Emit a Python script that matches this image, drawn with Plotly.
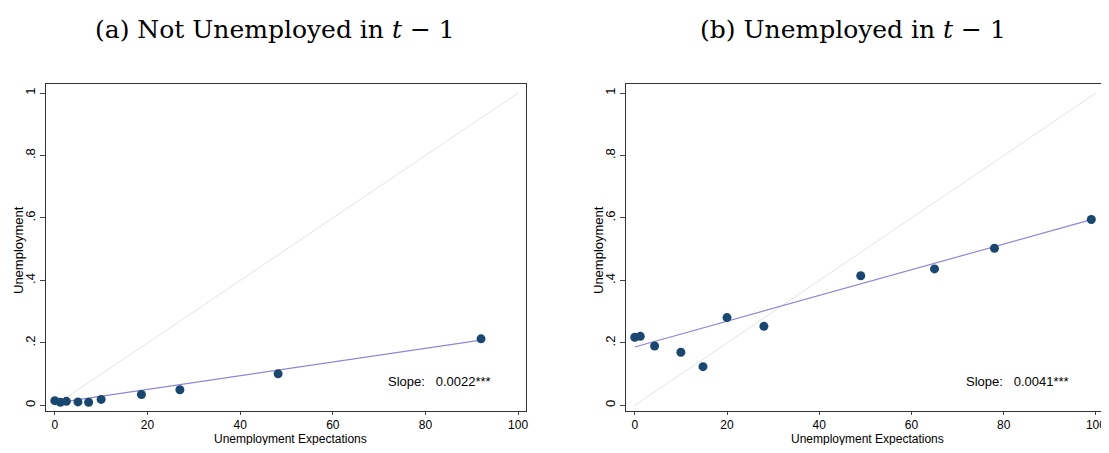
import plotly.graph_objects as go

# panel (a): not unemployed in t-1
xa = [0, 1.2, 2.5, 5, 7.3, 10, 18.7, 27, 48.2, 92]
ya = [0.015, 0.010, 0.013, 0.011, 0.010, 0.019, 0.035, 0.05, 0.101, 0.213]
fit_a_x = [0, 92]
fit_a_y = [0.007, 0.209]

# panel (b): unemployed in t-1
xb = [0, 1.2, 4.3, 10, 14.8, 20, 28, 49, 65, 78, 99]
yb = [0.218, 0.221, 0.19, 0.17, 0.124, 0.281, 0.253, 0.415, 0.437, 0.503, 0.595]
fit_b_x = [0, 99]
fit_b_y = [0.187, 0.595]

# page body has an 8px margin, so the figure is a bit smaller than the window
OFF = 8
W, H = 1109 - 2 * OFF, 453 - 2 * OFF


def xp(p):
    return min(1, (p - OFF) / W)


def yp(p):
    return max(0, 1 - (p - OFF) / H)


navy = '#1a476f'
tf = dict(family='Liberation Sans', size=13, color='black')
xf = dict(family='Liberation Sans', size=12, color='black')
fig = go.Figure()

panels = [
    ('x', 'y', xa, ya, fit_a_x, fit_a_y, 'Slope:   0.0022***', '(a) Not Unemployed in <i>t</i> − 1', 101.7),
    ('x2', 'y2', xb, yb, fit_b_x, fit_b_y, 'Slope:   0.0041***', '(b) Unemployed in <i>t</i> − 1', 101.1),
]
doms = [(xp(46), xp(526)), (xp(626), xp(1104))]
ydom = (yp(411), yp(84))

for i, (xr, yr, px_, py_, fx, fy, slope, title, xmax) in enumerate(panels):
    fig.add_trace(go.Scatter(x=[0, 100], y=[0, 1], mode='lines', xaxis=xr, yaxis=yr,
                             line=dict(color='#e3e3e3', width=1), showlegend=False))
    fig.add_trace(go.Scatter(x=fx, y=fy, mode='lines', xaxis=xr, yaxis=yr,
                             line=dict(color='#8f86d6', width=1.2), showlegend=False))
    fig.add_trace(go.Scatter(x=px_, y=py_, mode='markers', xaxis=xr, yaxis=yr,
                             marker=dict(color=navy, size=9), showlegend=False))
    sfx = '' if i == 0 else '2'
    ax = dict(domain=doms[i], range=[-1.9, xmax], tickvals=[0, 20, 40, 60, 80, 100],
              showgrid=False, zeroline=False, showline=True, mirror=True, linecolor='#333',
              ticks='outside', ticklen=3, tickfont=xf, anchor='y' + sfx, automargin=False,
              ticklabeloverflow='allow')
    ay = dict(domain=ydom, range=[-0.018, 1.029], tickvals=[0, 0.2, 0.4, 0.6, 0.8, 1],
              ticktext=['0', '.2', '.4', '.6', '.8', '1'], tickangle=-90,
              showgrid=False, zeroline=False, showline=True, mirror=True, linecolor='#333',
              ticks='outside', ticklen=5, tickfont=tf, anchor='x' + sfx, automargin=False)
    fig.update_layout(**{'xaxis' + sfx: ax, 'yaxis' + sfx: ay})
    fig.add_annotation(x=83, y=0.075, xref=xr, yref=yr, text=slope, showarrow=False, font=tf)
    mid = (doms[i][0] + doms[i][1]) / 2
    fig.add_annotation(x=mid + 0.004, y=0, xref='paper', yref='paper', xanchor='center',
                       yanchor='bottom', yshift=-3, text='Unemployment Expectations',
                       showarrow=False, font=xf)
    fig.add_annotation(x=doms[i][0] - 28 / W, y=yp(250), xref='paper', yref='paper',
                       xanchor='center', yanchor='middle', textangle=-90,
                       text='Unemployment', showarrow=False, font=tf)
    fig.add_annotation(x=mid - 0.01, y=yp(30), xref='paper', yref='paper', xanchor='center',
                       yanchor='middle', text=title, showarrow=False,
                       font=dict(family='DejaVu Serif', size=25, color='black'))

fig.update_layout(width=W, height=H, margin=dict(l=0, r=0, t=0, b=0),
                  plot_bgcolor='white', paper_bgcolor='white')
fig.write_html("out.html")
